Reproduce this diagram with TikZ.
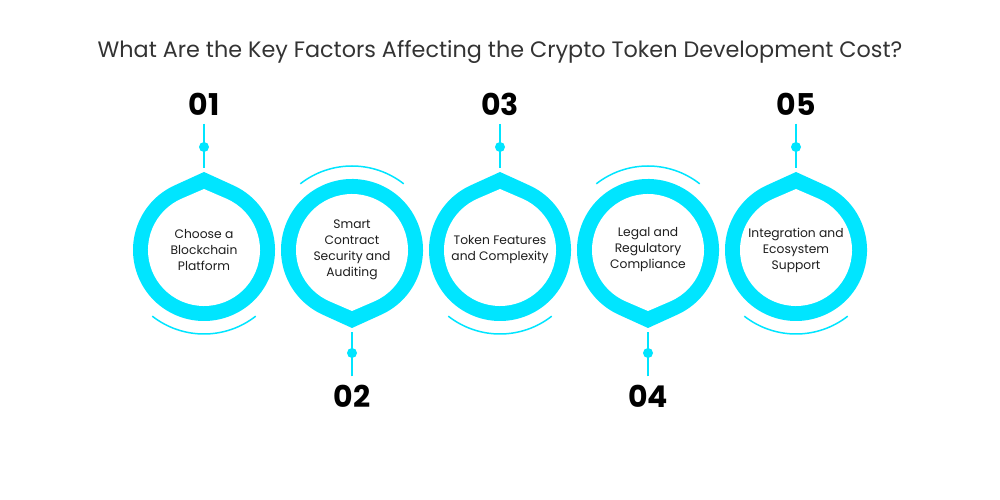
\documentclass[tikz,border=0pt]{standalone}
\usepackage{fontspec}
\setmainfont{Poppins}
\usepackage{tikz}
\usetikzlibrary{calc}
\definecolor{aqua}{HTML}{00E5FF}
\definecolor{ink}{HTML}{1E1E1E}
\definecolor{title_gray}{HTML}{333333}

\begin{document}
\begin{tikzpicture}[x=1pt,y=1pt,
    drop/.style={fill=aqua},
    hole/.style={fill=white},
    halo/.style={aqua,line width=1.5},
    stem/.style={aqua,line width=2,shorten <=5pt,shorten >=4pt},
    num/.style={font=\fontsize{30}{30}\selectfont\bfseries,text=black},
    label/.style={font=\fontsize{12.3}{16}\selectfont,text=ink,align=center}]

    \fill[white] (0,0) rectangle (1000,500);
    \useasboundingbox (0,0) rectangle (1000,500);

    \node[font=\fontsize{22.3}{22}\selectfont,text=title_gray] (title) at (500,448)
        {What Are the Key Factors Affecting the Crypto Token Development Cost?};

    % drops pointing up
    \foreach \cx in {204,500,796}{
        \begin{scope}[shift={(\cx,250)}]
            \fill[drop] (0,78) -- (65.5:71)
                arc[start angle=65.5,end angle=-245.5,radius=71] -- cycle;
            \fill[hole] (0,61) -- (66.7:56)
                arc[start angle=66.7,end angle=-246.7,radius=56] -- cycle;
            \draw[halo] (232:84) arc[start angle=232,end angle=308,radius=84];
        \end{scope}
    }

    % drops pointing down
    \foreach \cx in {352,648}{
        \begin{scope}[shift={(\cx,250)},yscale=-1]
            \fill[drop] (0,78) -- (65.5:71)
                arc[start angle=65.5,end angle=-245.5,radius=71] -- cycle;
            \fill[hole] (0,61) -- (66.7:56)
                arc[start angle=66.7,end angle=-246.7,radius=56] -- cycle;
            \draw[halo] (232:84) arc[start angle=232,end angle=308,radius=84];
        \end{scope}
    }

    \node[num] (n1) at (204,396) {01};
    \node[num] (n2) at (352,104) {02};
    \node[num] (n3) at (500,396) {03};
    \node[num] (n4) at (648,104) {04};
    \node[num] (n5) at (796,396) {05};

    \coordinate (tip1) at (204,328);
    \coordinate (tip2) at (352,172);
    \coordinate (tip3) at (500,328);
    \coordinate (tip4) at (648,172);
    \coordinate (tip5) at (796,328);

    \draw[stem] (n1) -- (tip1);
    \draw[stem] (n2) -- (tip2);
    \draw[stem] (n3) -- (tip3);
    \draw[stem] (n4) -- (tip4);
    \draw[stem] (n5) -- (tip5);

    \fill[aqua] (204,353) circle (5);
    \fill[aqua] (352,147) circle (5);
    \fill[aqua] (500,353) circle (5);
    \fill[aqua] (648,147) circle (5);
    \fill[aqua] (796,353) circle (5);

    \node[label] (t1) at (204,250) {Choose a\\Blockchain\\Platform};
    \node[label] (t2) at (352,250) {Smart\\Contract\\Security and\\Auditing};
    \node[label] (t3) at (500,250) {Token Features\\and Complexity};
    \node[label] (t4) at (648,250) {Legal and\\Regulatory\\Compliance};
    \node[label] (t5) at (796,250) {Integration and\\Ecosystem\\Support};

\end{tikzpicture}
\end{document}
